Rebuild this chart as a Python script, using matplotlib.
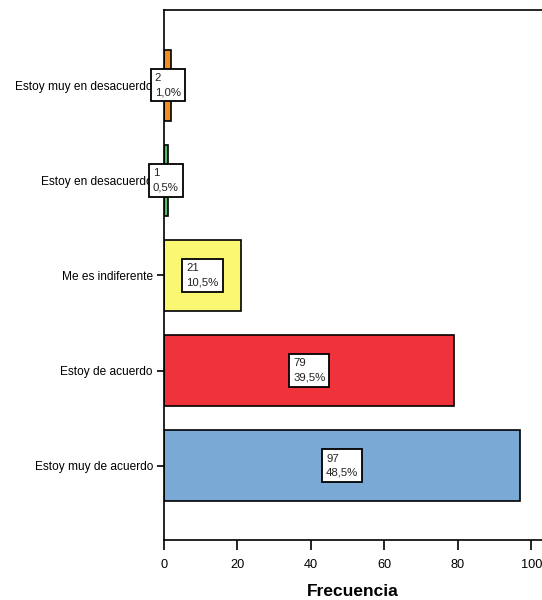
import matplotlib.pyplot as plt

plt.rcParams['font.family'] = ['Liberation Sans', 'DejaVu Sans']

categories = ["Estoy muy de acuerdo", "Estoy de acuerdo", "Me es indiferente",
              "Estoy en desacuerdo", "Estoy muy en desacuerdo"]
counts = [97, 79, 21, 1, 2]
percents = ["48,5%", "39,5%", "10,5%", "0,5%", "1,0%"]
colors = ["#7BA9D5", "#F0323A", "#FAF873", "#4CC06A", "#F28E1E"]

fig = plt.figure(figsize=(5.42, 6), dpi=100)
ax = fig.add_axes([164/542, 60/600, 378/542, 530/600])

y = range(len(categories))
ax.barh(y, counts, height=0.745, color=colors, edgecolor="black", linewidth=1.2)

for i, (c, p) in enumerate(zip(counts, percents)):
    ax.text(c / 2, i, f"{c}\n{p}", ha="center", va="center", fontsize=8.2,
            color="#222222", linespacing=1.55, multialignment="left", zorder=5,
            bbox=dict(boxstyle="square,pad=0.36", fc="white", ec="black", lw=1.3))

ax.set_xlim(0, 102.86)
ax.set_ylim(-0.78, 4.79)
ax.set_xticks([0, 20, 40, 60, 80, 100])
ax.set_yticks(list(y))
ax.set_yticklabels(categories, fontsize=8.6)
ax.tick_params(axis="x", labelsize=9.2, length=7, width=1.2, pad=7)
ax.tick_params(axis="y", length=5, width=1.2, pad=3)
ax.set_xlabel("Frecuencia", fontsize=12.5, fontweight="bold", labelpad=9)

for s in ["left", "bottom", "top"]:
    ax.spines[s].set_linewidth(1.2)
ax.spines["right"].set_visible(False)

plt.savefig("out.png", dpi=100)
